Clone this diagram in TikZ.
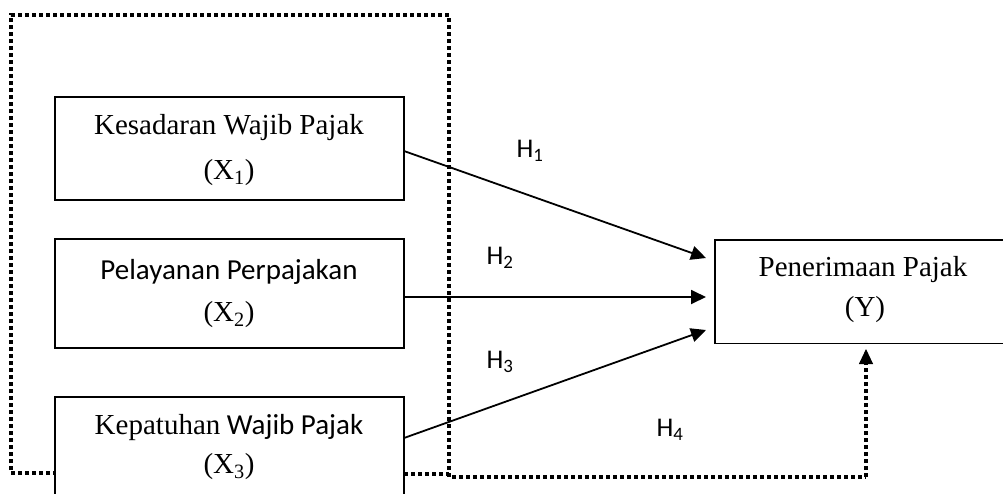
\documentclass[tikz,border=0pt]{standalone}
\usepackage{fontspec}
\setmainfont{Liberation Serif}
\newfontfamily\calfont{Carlito}
\usetikzlibrary{arrows.meta}
\begin{document}
\begin{tikzpicture}[x=1pt,y=-1pt,
  varbox/.style={draw,line width=1.8pt,fill=white,inner sep=0pt},
  lbl/.style={font=\fontsize{29}{35}\selectfont,inner sep=0pt,anchor=center},
  hlbl/.style={font=\calfont\fontsize{27}{32}\selectfont,inner sep=0pt,anchor=center},
  dotline/.style={line width=3.4pt,dash pattern=on 4pt off 3pt},
  arr/.style={line width=1.8pt,-{Triangle[length=15pt,width=14pt]}}]
\useasboundingbox (0,0) rectangle (1003,493);
\clip (0,0) rectangle (1003,493);
% dotted enclosure
\coordinate (dA) at (57,473);
\coordinate (dB) at (11,473);
\coordinate (dC) at (11,15);
\coordinate (dD) at (449,15);
\coordinate (dE) at (449,477);
\coordinate (dF) at (866,477);
\draw[dotline] (dA) -- (dB) -- (dC) -- (dD) -- (dE) -- (dF);
\draw[dotline] (404,474) -- (449,474);
% boxes
\node[varbox,minimum width=349pt,minimum height=103pt] (x1) at (229.5,148.5) {};
\node[varbox,minimum width=349pt,minimum height=109pt] (x2) at (229.5,293.5) {};
\node[varbox,minimum width=349pt,minimum height=140pt] (x3) at (229.5,467) {};
\node[inner sep=0pt,minimum width=340pt,minimum height=103pt,anchor=north west] (y) at (715,240) {};
\draw[line width=1.8pt] (y.north east) -- (y.north west) -- (y.south west) -- (y.south east);
% texts
\node[lbl] (t1a) at (229,128) {Kesadaran Wajib Pajak};
\node[lbl] (t1b) at (229,173) {(X\textsubscript{1})};
\node[lbl,font=\calfont\fontsize{29}{35}\selectfont] (t2a) at (229,272) {Pelayanan Perpajakan};
\node[lbl] (t2b) at (229,315) {(X\textsubscript{2})};
\node[lbl] (t3a) at (229,428) {Kepatuhan{\calfont{} Wajib Pajak}};
\node[lbl] (t3b) at (229,467) {(X\textsubscript{3})};
\node[lbl] (tya) at (863,270) {Penerimaan Pajak};
\node[lbl] (tyb) at (865,310) {(Y)};
% arrows
\coordinate (h1s) at (404,151);
\coordinate (h1e) at (706,258);
\coordinate (h2s) at (404,297);
\coordinate (h2e) at (706,297);
\coordinate (h3s) at (404,438);
\coordinate (h3e) at (706,330);
\draw[arr] (h1s) -- (h1e);
\draw[arr] (h2s) -- (h2e);
\draw[arr] (h3s) -- (h3e);
\coordinate (h4s) at (866,477);
\coordinate (h4e) at (866,349);
\draw[dotline] (h4s) -- (866,362);
\draw[line width=1pt,-{Triangle[length=15pt,width=14pt]}] (866,364) -- (h4e);
% labels
\node[hlbl] (H1) at (530,151) {H\textsubscript{1}};
\node[hlbl] (H2) at (500,258) {H\textsubscript{2}};
\node[hlbl] (H3) at (500,362) {H\textsubscript{3}};
\node[hlbl] (H4) at (670,430) {H\textsubscript{4}};
\end{tikzpicture}
\end{document}
